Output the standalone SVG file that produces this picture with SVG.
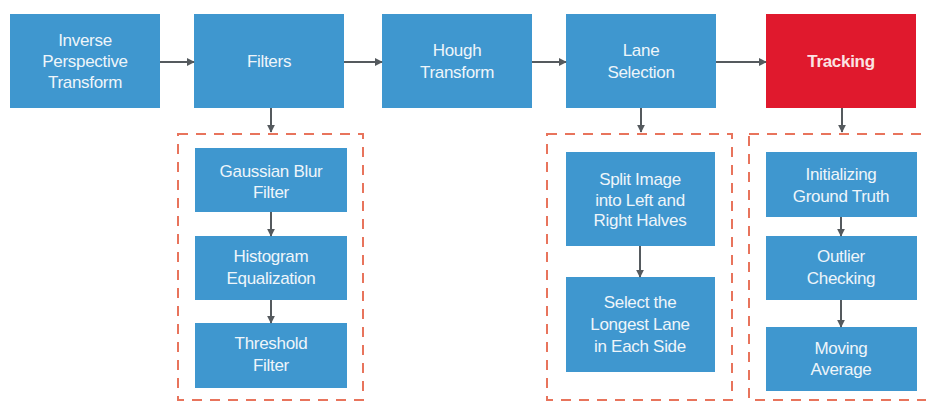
<svg xmlns="http://www.w3.org/2000/svg" width="926" height="401" viewBox="0 0 926 401">
  <defs>
    <marker id="arrow" viewBox="0 0 10 10" refX="9" refY="5" markerWidth="8" markerHeight="8" markerUnits="userSpaceOnUse" orient="auto">
      <path d="M0,0 L10,5 L0,10 z" fill="#555a5e"/>
    </marker>
    <style>
      .box { fill: #3f97cf; }
      .hot { fill: #e0192d; }
      .lbl { font-family: "Liberation Sans", Arial, sans-serif; font-size: 17px; fill: #eef5fa; text-anchor: middle; letter-spacing: -0.3px; }
      .hotlbl { fill: #fbe3e3; font-weight: bold; }
      .group { fill: none; stroke: #e8745c; stroke-width: 2; stroke-dasharray: 10 8; }
      .link { stroke: #555a5e; stroke-width: 2; fill: none; marker-end: url(#arrow); }
    </style>
  </defs>
  <rect width="926" height="401" fill="#ffffff"/>

  <!-- dashed sub-process frames -->
  <g id="frames">
    <rect class="group" x="178" y="134" width="185" height="266"/>
    <rect class="group" x="547" y="134" width="185" height="266"/>
    <rect class="group" x="749" y="134" width="190" height="266"/>
  </g>

  <!-- main pipeline -->
  <g id="ipt">
    <rect class="box" x="10" y="14" width="150" height="94"/>
    <text class="lbl" x="85" y="46">Inverse</text>
    <text class="lbl" x="85" y="67">Perspective</text>
    <text class="lbl" x="85" y="88">Transform</text>
  </g>
  <g id="filters">
    <rect class="box" x="194" y="14" width="150" height="94"/>
    <text class="lbl" x="269" y="67">Filters</text>
  </g>
  <g id="hough">
    <rect class="box" x="382" y="14" width="150" height="94"/>
    <text class="lbl" x="457" y="56">Hough</text>
    <text class="lbl" x="457" y="78">Transform</text>
  </g>
  <g id="lane">
    <rect class="box" x="566" y="14" width="150" height="94"/>
    <text class="lbl" x="641" y="56">Lane</text>
    <text class="lbl" x="641" y="78">Selection</text>
  </g>
  <g id="tracking">
    <rect class="hot" x="766" y="14" width="150" height="94"/>
    <text class="lbl hotlbl" x="841" y="67">Tracking</text>
  </g>

  <!-- filter steps -->
  <g id="gauss">
    <rect class="box" x="195" y="148" width="152" height="64"/>
    <text class="lbl" x="271" y="177">Gaussian Blur</text>
    <text class="lbl" x="271" y="198">Filter</text>
  </g>
  <g id="histeq">
    <rect class="box" x="195" y="236" width="152" height="64"/>
    <text class="lbl" x="271" y="262">Histogram</text>
    <text class="lbl" x="271" y="284">Equalization</text>
  </g>
  <g id="threshold">
    <rect class="box" x="195" y="323" width="152" height="65"/>
    <text class="lbl" x="271" y="349">Threshold</text>
    <text class="lbl" x="271" y="371">Filter</text>
  </g>

  <!-- lane selection steps -->
  <g id="split">
    <rect class="box" x="566" y="152" width="149" height="94"/>
    <text class="lbl" x="640" y="185">Split Image</text>
    <text class="lbl" x="640" y="206">into Left and</text>
    <text class="lbl" x="640" y="226">Right Halves</text>
  </g>
  <g id="longest">
    <rect class="box" x="566" y="277" width="149" height="95"/>
    <text class="lbl" x="640" y="308">Select the</text>
    <text class="lbl" x="640" y="330">Longest Lane</text>
    <text class="lbl" x="640" y="352">in Each Side</text>
  </g>

  <!-- tracking steps -->
  <g id="init">
    <rect class="box" x="766" y="152" width="151" height="65"/>
    <text class="lbl" x="841" y="180">Initializing</text>
    <text class="lbl" x="841" y="202">Ground Truth</text>
  </g>
  <g id="outlier">
    <rect class="box" x="766" y="236" width="151" height="64"/>
    <text class="lbl" x="841" y="262">Outlier</text>
    <text class="lbl" x="841" y="284">Checking</text>
  </g>
  <g id="moving">
    <rect class="box" x="766" y="327" width="151" height="64"/>
    <text class="lbl" x="841" y="354">Moving</text>
    <text class="lbl" x="841" y="375">Average</text>
  </g>

  <!-- connectors -->
  <g id="connectors">
    <line class="link" x1="160" y1="62" x2="194" y2="62"/>
    <line class="link" x1="344" y1="62" x2="382" y2="62"/>
    <line class="link" x1="532" y1="62" x2="566" y2="62"/>
    <line class="link" x1="716" y1="62" x2="766" y2="62"/>
    <line class="link" x1="271" y1="108" x2="271" y2="132"/>
    <line class="link" x1="641" y1="108" x2="641" y2="132"/>
    <line class="link" x1="842" y1="108" x2="842" y2="132"/>
    <line class="link" x1="271" y1="212" x2="271" y2="236"/>
    <line class="link" x1="271" y1="300" x2="271" y2="323"/>
    <line class="link" x1="640" y1="246" x2="640" y2="277"/>
    <line class="link" x1="841" y1="217" x2="841" y2="236"/>
    <line class="link" x1="841" y1="300" x2="841" y2="327"/>
  </g>
</svg>
